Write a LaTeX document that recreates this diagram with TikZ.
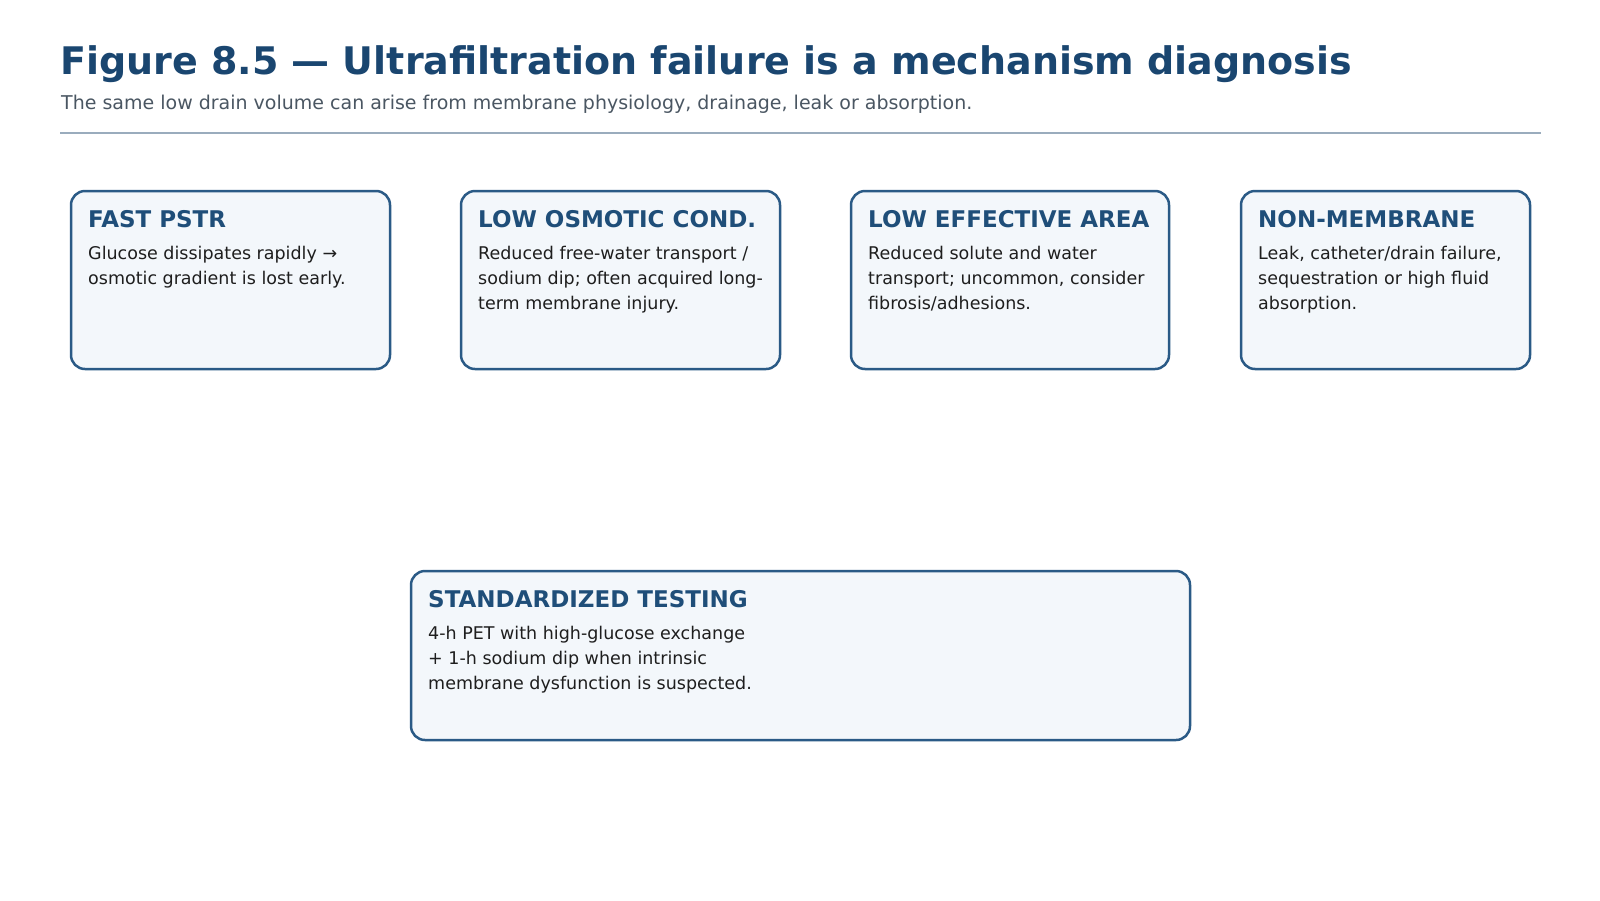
\documentclass[tikz,border=0pt]{standalone}
\usepackage{fontspec}
\setmainfont{DejaVu Sans}
\definecolor{titlec}{HTML}{1A4670}
\definecolor{headc}{HTML}{1F4E79}
\definecolor{boxb}{HTML}{2A5A86}
\definecolor{boxf}{HTML}{F3F7FB}
\definecolor{subc}{HTML}{4A5662}
\definecolor{rulec}{HTML}{9AACBD}
\definecolor{bodyc}{HTML}{1E1E1E}
\begin{document}
\begin{tikzpicture}[x=1pt,y=-1pt,
  card/.style={draw=boxb,line width=2.5pt,fill=boxf,rounded corners=14pt},
  head/.style={anchor=west,inner sep=0,text=headc,font=\fontsize{23}{28}\selectfont\bfseries},
  body/.style={anchor=north west,inner sep=0,text=bodyc,align=left,font=\fontsize{17.5}{25}\selectfont}]
\useasboundingbox (0,0) rectangle (1600,900);
\node[anchor=base west,inner sep=0,text=titlec,font=\fontsize{38}{44}\selectfont\bfseries] (title) at (60,74) {Figure 8.5 — Ultrafiltration failure is a mechanism diagnosis};
\node[anchor=west,inner sep=0,text=subc,font=\fontsize{19}{23}\selectfont] (sub) at (61,104) {The same low drain volume can arise from membrane physiology, drainage, leak or absorption.};
\draw[rulec,line width=1.8pt] (60,133) coordinate (r1) -- (1541,133) coordinate (r2);
% cards
\draw[card] (71,191) rectangle (390,369);
\node[head] (h1) at (88,219) {FAST PSTR};
\node[body] (b1) at (88,246) {Glucose dissipates rapidly →\\osmotic gradient is lost early.};
\draw[card] (461,191) rectangle (780,369);
\node[head] (h2) at (478,219) {LOW OSMOTIC COND.};
\node[body] (b2) at (478,246) {Reduced free-water transport /\\sodium dip; often acquired long-\\term membrane injury.};
\draw[card] (851,191) rectangle (1169,369);
\node[head] (h3) at (868,219) {LOW EFFECTIVE AREA};
\node[body] (b3) at (868,246) {Reduced solute and water\\transport; uncommon, consider\\fibrosis/adhesions.};
\draw[card] (1241,191) rectangle (1530,369);
\node[head] (h4) at (1258,219) {NON-MEMBRANE};
\node[body] (b4) at (1258,246) {Leak, catheter/drain failure,\\sequestration or high fluid\\absorption.};
\draw[card] (411,571) rectangle (1190,740);
\node[head] (h5) at (428,599) {STANDARDIZED TESTING};
\node[body] (b5) at (428,626) {4-h PET with high-glucose exchange\\+ 1-h sodium dip when intrinsic\\membrane dysfunction is suspected.};
\end{tikzpicture}
\end{document}
